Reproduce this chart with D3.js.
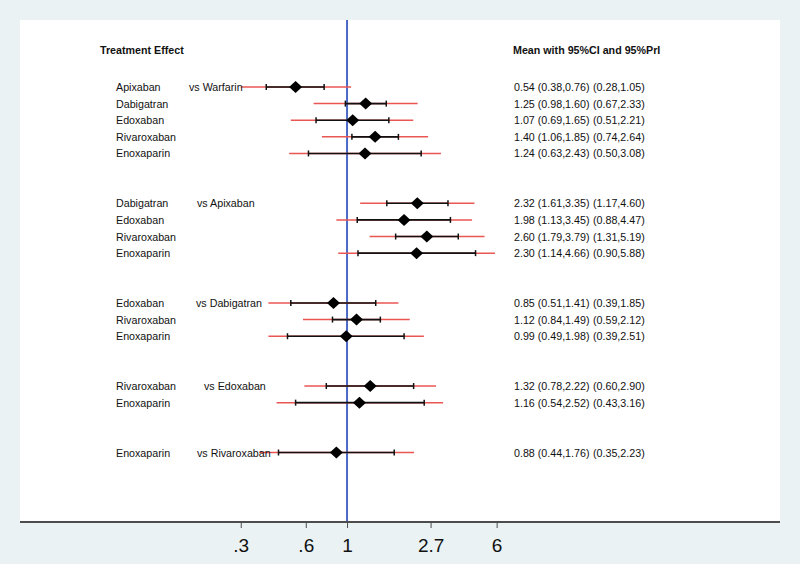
<!DOCTYPE html>
<html>
<head>
<meta charset="utf-8">
<script src="https://cdn.jsdelivr.net/npm/d3@7/dist/d3.min.js"></script>
<style>
  html, body { margin: 0; padding: 0; background: #eaf2f3; }
  svg { display: block; font-family: "Liberation Sans", Arial, Helvetica, sans-serif; }
</style>
</head>
<body>
<svg id="chart" width="800" height="564"></svg>
<script>
// ---- Data ----
const comparators = ["Warfarin", "Apixaban", "Dabigatran", "Edoxaban", "Rivaroxaban"];
const treatments = [
  ["Apixaban", "Dabigatran", "Edoxaban", "Rivaroxaban", "Enoxaparin"],
  ["Dabigatran", "Edoxaban", "Rivaroxaban", "Enoxaparin"],
  ["Edoxaban", "Rivaroxaban", "Enoxaparin"],
  ["Rivaroxaban", "Enoxaparin"],
  ["Enoxaparin"]
];
const means = [
  [0.54, 1.25, 1.07, 1.40, 1.24],
  [2.32, 1.98, 2.60, 2.30],
  [0.85, 1.12, 0.99],
  [1.32, 1.16],
  [0.88]
];
const ciLow = [
  [0.38, 0.98, 0.69, 1.06, 0.63],
  [1.61, 1.13, 1.79, 1.14],
  [0.51, 0.84, 0.49],
  [0.78, 0.54],
  [0.44]
];
const ciHigh = [
  [0.76, 1.60, 1.65, 1.85, 2.43],
  [3.35, 3.45, 3.79, 4.66],
  [1.41, 1.49, 1.98],
  [2.22, 2.52],
  [1.76]
];
const priLow = [
  [0.28, 0.67, 0.51, 0.74, 0.50],
  [1.17, 0.88, 1.31, 0.90],
  [0.39, 0.59, 0.39],
  [0.60, 0.43],
  [0.35]
];
const priHigh = [
  [1.05, 2.33, 2.21, 2.64, 3.08],
  [4.60, 4.47, 5.19, 5.88],
  [1.85, 2.12, 2.51],
  [2.90, 3.16],
  [2.23]
];
const tickValues = [0.28, 0.61, 1, 2.72, 6.0];
const tickLabels = [".3", ".6", "1", "2.7", "6"];
const titleLeft = "Treatment Effect";
const titleRight = "Mean with 95%CI and 95%PrI";

// ---- Layout (not data) ----
const W = 800, H = 564;
const plot = { left: 20, right: 780, top: 20, bottom: 522 };
const compLabelX = [189, 197, 196, 204, 197];
const fmt = d3.format(".2f");
const fs = 10.7;

// Build row table
const rows = [];
let idx = 0;
treatments.forEach((grp, g) => {
  grp.forEach((t, i) => {
    rows.push({
      g, i, row: idx + i, name: t,
      comp: i === 0 ? "vs " + comparators[g] : null,
      m: means[g][i], cl: ciLow[g][i], ch: ciHigh[g][i], pl: priLow[g][i], ph: priHigh[g][i]
    });
  });
  idx += grp.length + 2;
});
const lastRow = idx - 3;

const svg = d3.select("#chart");
svg.append("rect").attr("x", 0).attr("y", 0).attr("width", W).attr("height", H).attr("fill", "#eaf2f3");
svg.append("rect").attr("x", plot.left).attr("y", plot.top)
  .attr("width", plot.right - plot.left).attr("height", plot.bottom - plot.top).attr("fill", "#ffffff");

const x = d3.scaleLog().domain([0.0199, 178.7]).range([plot.left, plot.right]);
const y = d3.scaleLinear().domain([0, lastRow]).range([87, 452.5]);

// Null line
svg.append("line")
  .attr("x1", x(1)).attr("x2", x(1))
  .attr("y1", plot.top).attr("y2", plot.bottom)
  .attr("stroke", "#4a68c6").attr("stroke-width", 2);

// Axis
const axis = d3.axisBottom(x).tickValues(tickValues)
  .tickFormat((d, i) => tickLabels[i]).tickSize(6).tickSizeOuter(0).tickPadding(6);
const ax = svg.append("g").attr("transform", `translate(0,${plot.bottom})`).call(axis);
ax.select(".domain").attr("stroke", "#4d4d4d").attr("stroke-width", 2);
ax.selectAll(".tick line").attr("stroke", "#4d4d4d").attr("stroke-width", 1);
ax.selectAll(".tick text").attr("fill", "#111").attr("font-size", 19)
  .attr("font-family", "'Liberation Sans Narrow', 'Liberation Sans', Arial, sans-serif")
  .attr("dy", "0.95em");
ax.select(".domain").attr("d", `M${plot.left},0H${plot.right}`);

// Headers
svg.append("text").attr("x", 100).attr("y", 54).attr("font-size", fs).attr("font-weight", "bold")
  .attr("fill", "#111").text(titleLeft);
svg.append("text").attr("x", 513).attr("y", 54).attr("font-size", fs).attr("font-weight", "bold")
  .attr("fill", "#111").text(titleRight);

const gRows = svg.append("g");
const r = gRows.selectAll("g.row").data(rows).join("g").attr("class", "row")
  .attr("transform", d => `translate(0,${y(d.row)})`);

// PrI lines (red)
r.append("line").attr("x1", d => x(d.pl)).attr("x2", d => x(d.ph)).attr("y1", 0).attr("y2", 0)
  .attr("stroke", "#ea5652").attr("stroke-width", 1.5);
// CI lines (black)
r.append("line").attr("x1", d => x(d.cl)).attr("x2", d => x(d.ch)).attr("y1", 0).attr("y2", 0)
  .attr("stroke", "#111").attr("stroke-width", 1.6);
// CI caps
r.append("line").attr("x1", d => x(d.cl)).attr("x2", d => x(d.cl)).attr("y1", -3).attr("y2", 3)
  .attr("stroke", "#111").attr("stroke-width", 1.5);
r.append("line").attr("x1", d => x(d.ch)).attr("x2", d => x(d.ch)).attr("y1", -3).attr("y2", 3)
  .attr("stroke", "#111").attr("stroke-width", 1.5);
// Diamonds
r.append("path").attr("d", d => {
  const cx = x(d.m);
  return `M${cx - 6.5},0L${cx},-6L${cx + 6.5},0L${cx},6Z`;
}).attr("fill", "#000");

// Labels
r.append("text").attr("x", 116).attr("y", 4).attr("font-size", fs).attr("fill", "#111").text(d => d.name);
r.filter(d => d.comp).append("text").attr("x", d => compLabelX[d.g]).attr("y", 4)
  .attr("font-size", fs).attr("fill", "#111").text(d => d.comp);
r.append("text").attr("x", 514).attr("y", 4).attr("font-size", fs).attr("fill", "#111")
  .text(d => `${fmt(d.m)} (${fmt(d.cl)},${fmt(d.ch)})`);
r.append("text").attr("x", 593).attr("y", 4).attr("font-size", fs).attr("fill", "#111")
  .text(d => `(${fmt(d.pl)},${fmt(d.ph)})`);
</script>
</body>
</html>
